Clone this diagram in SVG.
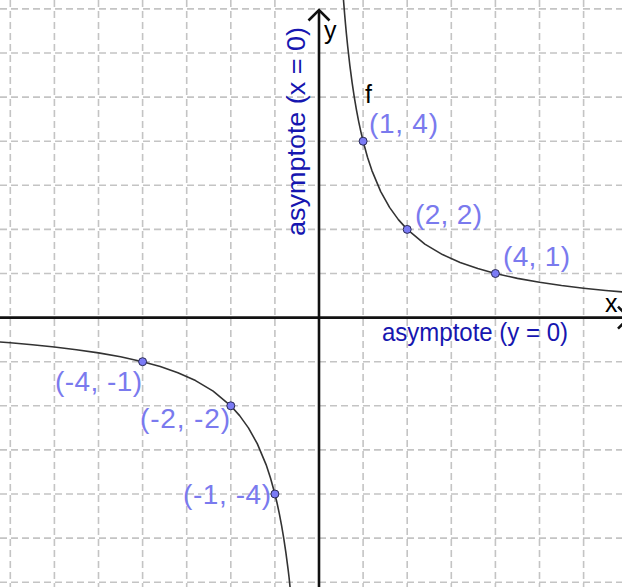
<svg xmlns="http://www.w3.org/2000/svg" width="622" height="587" viewBox="0 0 622 587">
<style>
.grid line{stroke:#c4c4c4;stroke-width:1.6;stroke-dasharray:7,4}
.axis{stroke:#111;stroke-width:2.6;fill:none}
.curve{stroke:#333;stroke-width:1.6;fill:none;stroke-linejoin:round}
.pt{fill:#7b7bf5;stroke:#2a2a55;stroke-width:1}
.plab{font-family:"Liberation Sans",Arial,sans-serif;font-size:28px;fill:#7a7aee}
.alab{font-family:"Liberation Sans",Arial,sans-serif;font-size:25px;fill:#000}
.asym{font-family:"Liberation Sans",Arial,sans-serif;fill:#1616b0}
</style>
<rect width="622" height="587" fill="#fff"/>
<g class="grid" id="grid">
<line x1="10.3" y1="0" x2="10.3" y2="587"/>
<line x1="54.4" y1="0" x2="54.4" y2="587"/>
<line x1="98.5" y1="0" x2="98.5" y2="587"/>
<line x1="142.6" y1="0" x2="142.6" y2="587"/>
<line x1="186.7" y1="0" x2="186.7" y2="587"/>
<line x1="230.8" y1="0" x2="230.8" y2="587"/>
<line x1="274.9" y1="0" x2="274.9" y2="587"/>
<line x1="363.1" y1="0" x2="363.1" y2="587"/>
<line x1="407.2" y1="0" x2="407.2" y2="587"/>
<line x1="451.3" y1="0" x2="451.3" y2="587"/>
<line x1="495.4" y1="0" x2="495.4" y2="587"/>
<line x1="539.5" y1="0" x2="539.5" y2="587"/>
<line x1="583.6" y1="0" x2="583.6" y2="587"/>
<line x1="0" y1="8.9" x2="622" y2="8.9"/>
<line x1="0" y1="53" x2="622" y2="53"/>
<line x1="0" y1="97.1" x2="622" y2="97.1"/>
<line x1="0" y1="141.2" x2="622" y2="141.2"/>
<line x1="0" y1="185.3" x2="622" y2="185.3"/>
<line x1="0" y1="229.4" x2="622" y2="229.4"/>
<line x1="0" y1="273.5" x2="622" y2="273.5"/>
<line x1="0" y1="361.7" x2="622" y2="361.7"/>
<line x1="0" y1="405.8" x2="622" y2="405.8"/>
<line x1="0" y1="449.9" x2="622" y2="449.9"/>
<line x1="0" y1="494" x2="622" y2="494"/>
<line x1="0" y1="538.1" x2="622" y2="538.1"/>
<line x1="0" y1="582.2" x2="622" y2="582.2"/>
</g>
<g id="axes">
<line class="axis" x1="0" y1="317.6" x2="628" y2="317.6"/>
<polyline class="axis" points="618,306.6 629,317.6 618,328.6"/>
<line class="axis" x1="319" y1="587" x2="319" y2="11"/>
<polyline class="axis" points="308.5,20.5 319,10 329.5,20.5"/>
<text class="alab" x="605" y="312">x</text>
<text class="alab" x="324" y="39">y</text>
</g>
<g id="curve-f">
<polyline class="curve" points="342.81,-9.07 343.7,2.6 344.58,13.46 345.46,23.6 346.34,33.1 347.67,46.22 349.87,65.6 352.08,82.4 354.28,97.1 356.49,110.07 358.69,121.6 360.9,131.92 363.1,141.2 367.51,157.24 371.92,170.6 380.74,191.6 389.56,207.35 398.38,219.6 407.2,229.4 424.84,244.1 442.48,254.6 460.12,262.48 477.76,268.6 495.4,273.5 517.45,278.4 539.5,282.32 561.55,285.53 583.6,288.2 605.65,290.46 627.7,292.4"/>
<polyline class="curve" points="-7.34,341.44 10.3,342.8 32.35,344.74 54.4,347 76.45,349.67 98.5,352.88 120.55,356.8 142.6,361.7 160.24,366.6 177.88,372.72 195.52,380.6 213.16,391.1 230.8,405.8 239.62,415.6 248.44,427.85 257.26,443.6 266.08,464.6 270.49,477.96 274.9,494 277.1,503.28 279.31,513.6 281.51,525.13 283.72,538.1 285.92,552.8 288.13,569.6 289.01,577.01 291.66,602.1"/>
<text class="alab" x="365" y="103">f</text>
</g>
<g id="asymptotes">
<text class="asym" x="382" y="341" font-size="25" textLength="186" lengthAdjust="spacingAndGlyphs">asymptote (y = 0)</text>
<text class="asym" transform="translate(305,236) rotate(-90)" font-size="26" textLength="209" lengthAdjust="spacingAndGlyphs">asymptote (x = 0)</text>
</g>
<g id="p1"><circle class="pt" cx="363.1" cy="141.2" r="4"/><text class="plab" x="369" y="133" textLength="69">(1, 4)</text></g>
<g id="p2"><circle class="pt" cx="407.2" cy="229.4" r="4"/><text class="plab" x="415" y="224" textLength="67">(2, 2)</text></g>
<g id="p3"><circle class="pt" cx="495.4" cy="273.5" r="4"/><text class="plab" x="503" y="266" textLength="67">(4, 1)</text></g>
<g id="p4"><circle class="pt" cx="142.6" cy="361.7" r="4"/><text class="plab" x="55" y="391" textLength="87">(-4, -1)</text></g>
<g id="p5"><circle class="pt" cx="230.8" cy="405.8" r="4"/><text class="plab" x="140" y="428" textLength="90">(-2, -2)</text></g>
<g id="p6"><circle class="pt" cx="274.9" cy="494" r="4"/><text class="plab" x="183" y="504" textLength="88">(-1, -4)</text></g>
</svg>
